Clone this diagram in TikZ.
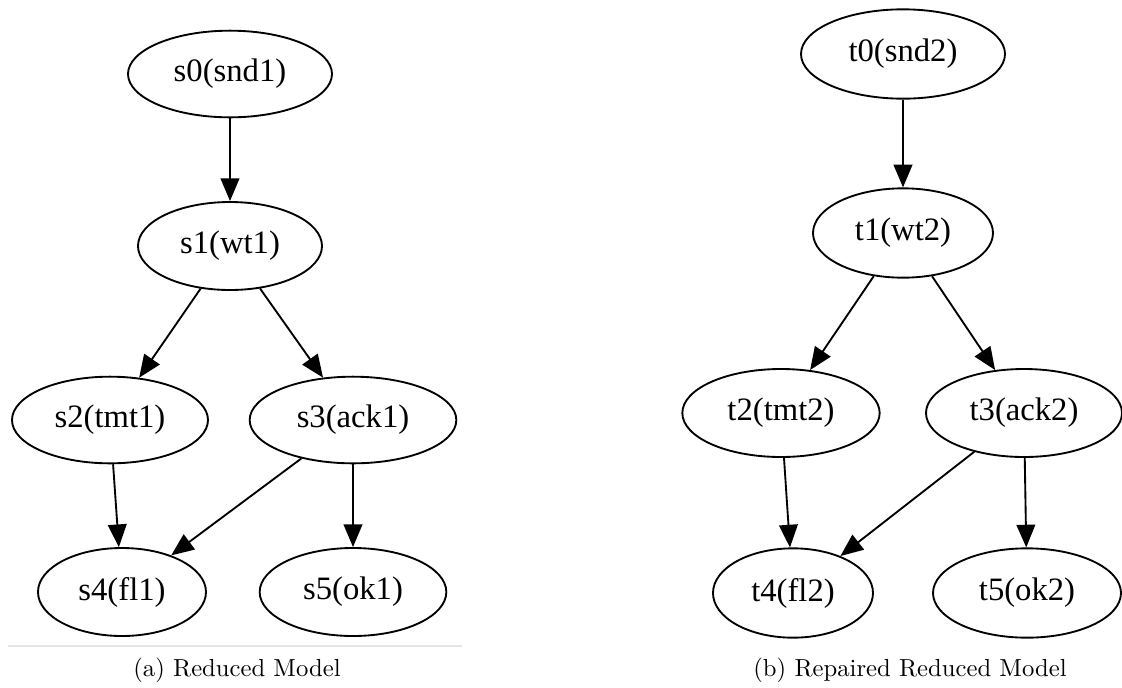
\documentclass[tikz,border=0pt]{standalone}
\usepackage{fontspec}
\newfontfamily\statefont{Liberation Serif}
\usetikzlibrary{shapes.geometric,arrows.meta}
\begin{document}
\begin{tikzpicture}[x=0.75pt,y=-0.75pt,
  state/.style={ellipse,draw,line width=1.4pt,inner sep=0pt,
    font=\statefont\fontsize{24.5}{28}\selectfont},
  edge/.style={line width=1.4pt,-{Triangle[length=17pt,width=14pt]}},
  caption/.style={font=\fontsize{10}{12}\selectfont,scale=1.85}]
\useasboundingbox (0,0) rectangle (1122,687);
% left graph: reduced model
\node[state,minimum width=153pt,minimum height=65pt] (s0) at (230,74) {s0(snd1)};
\node[state,minimum width=138pt,minimum height=66pt] (s1) at (230,246) {s1(wt1)};
\node[state,minimum width=147pt,minimum height=65pt] (s2) at (110,420) {s2(tmt1)};
\node[state,minimum width=155pt,minimum height=65pt] (s3) at (353,420) {s3(ack1)};
\node[state,minimum width=126pt,minimum height=66pt] (s4) at (122,592) {s4(fl1)};
\node[state,minimum width=140pt,minimum height=66pt] (s5) at (353,592) {s5(ok1)};
\draw[edge] (s0) -- (s1);
\draw[edge] (s1) -- (s2);
\draw[edge] (s1) -- (s3);
\draw[edge] (s2) -- (s4);
\draw[edge] (s3) -- (s4);
\draw[edge] (s3) -- (s5);
\coordinate (ruleL) at (8,646);
\coordinate (ruleR) at (462,646);
\draw[line width=1pt,black!10] (ruleL) -- (ruleR);
\node[caption] (capa) at (237,670) {(a) Reduced Model};
% right graph: repaired reduced model
\node[state,minimum width=153pt,minimum height=67pt] (t0) at (903,54) {t0(snd2)};
\node[state,minimum width=135pt,minimum height=67pt] (t1) at (903,233) {t1(wt2)};
\node[state,minimum width=148pt,minimum height=66pt] (t2) at (781,413) {t2(tmt2)};
\node[state,minimum width=147pt,minimum height=66pt] (t3) at (1024,413) {t3(ack2)};
\node[state,minimum width=120pt,minimum height=67pt] (t4) at (793,593) {t4(fl2)};
\node[state,minimum width=141pt,minimum height=67pt] (t5) at (1027,593) {t5(ok2)};
\draw[edge] (t0) -- (t1);
\draw[edge] (t1) -- (t2);
\draw[edge] (t1) -- (t3);
\draw[edge] (t2) -- (t4);
\draw[edge] (t3) -- (t4);
\draw[edge] (t3) -- (t5);
\node[caption] (capb) at (910,670) {(b) Repaired Reduced Model};
\end{tikzpicture}
\end{document}
